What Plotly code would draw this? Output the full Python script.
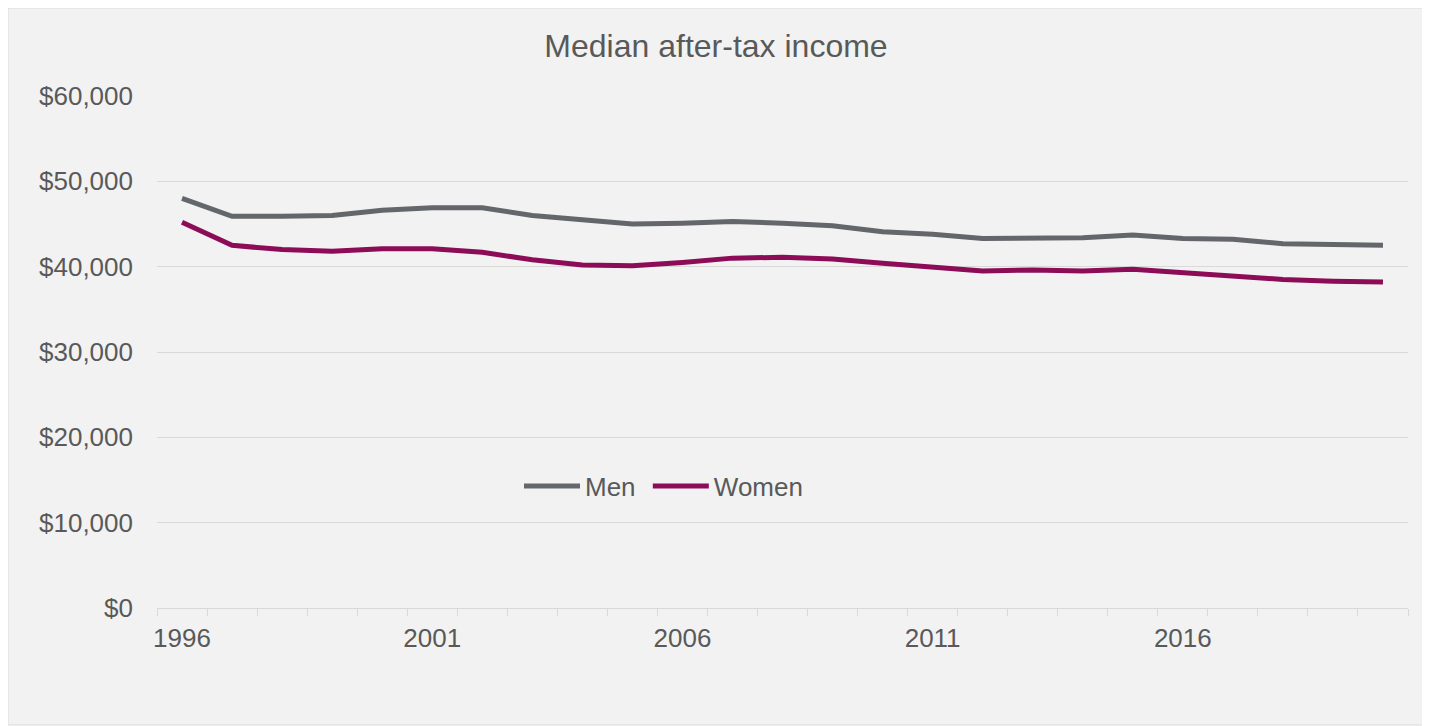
import plotly.graph_objects as go

years = [1996, 1997, 1998, 1999, 2000, 2001, 2002, 2003, 2004, 2005, 2006, 2007, 2008,
         2009, 2010, 2011, 2012, 2013, 2014, 2015, 2016, 2017, 2018, 2019, 2020]
men = [48000, 45900, 45900, 46000, 46600, 46900, 46900, 46000, 45500, 45000, 45100, 45300, 45100,
       44800, 44100, 43800, 43300, 43400, 43400, 43700, 43300, 43200, 42700, 42600, 42500]
women = [45200, 42500, 42000, 41800, 42100, 42100, 41700, 40800, 40200, 40100, 40500, 41000, 41100,
         40900, 40400, 40000, 39500, 39600, 39500, 39700, 39300, 39000, 38500, 38300, 38200]
label_years = [1996, 2001, 2006, 2011, 2016]
y_ticks = [0, 10000, 20000, 30000, 40000, 50000, 60000]

TEXT = "#595959"
GRID = "#d9d9d9"
FONT = "Liberation Sans, Arial, sans-serif"

fig = go.Figure()
fig.add_trace(go.Scatter(x=years, y=men, name="Men\u00a0", mode="lines",
                         line=dict(color="#63666a", width=5)))
fig.add_trace(go.Scatter(x=years, y=women, name="Women", mode="lines",
                         line=dict(color="#8c0c57", width=5)))

# page is offset by the 8px body margin; work in page pixels, convert to figure pixels
OFF = 8
W, H = 1430 - OFF, 726 - OFF
L, R, T, B = 157 - OFF, 1430 - 1408, 96 - OFF, 726 - 608
pw, ph = W - L - R, H - T - B

def px_x(x):  # page x -> paper fraction
    return (x - OFF - L) / pw

def px_y(y):  # page y -> paper fraction
    return (H - B - (y - OFF)) / ph

fig.add_shape(type="rect", xref="paper", yref="paper",
              x0=px_x(OFF), x1=px_x(1425), y0=px_y(725), y1=px_y(OFF),
              fillcolor="#f2f2f2", line=dict(color="#d9d9d9", width=1), layer="below")

fig.update_layout(
    width=W, height=H,
    margin=dict(l=L, r=R, t=T, b=B, pad=0),
    paper_bgcolor="white",
    plot_bgcolor="rgba(0,0,0,0)",
    font=dict(family=FONT, color=TEXT, size=26),
    title=dict(text="Median after-tax income", x=(716 - OFF) / W, xref="container", xanchor="center",
               y=1 - (46 - OFF) / H, yref="container", yanchor="middle",
               font=dict(size=32, color=TEXT, family=FONT)),
    showlegend=True,
    legend=dict(orientation="h", x=px_x(519), xanchor="left", y=px_y(486), yanchor="middle",
                bgcolor="rgba(0,0,0,0)", font=dict(size=26, color=TEXT), itemwidth=56,
                traceorder="normal"),
    xaxis=dict(range=[1995.5, 2020.5], tickmode="array", tickvals=label_years,
               ticktext=[str(y) for y in label_years], ticks="", showgrid=False,
               zeroline=False, showline=True, linecolor=GRID, linewidth=1,
               ticklabelstandoff=7,
               minor=dict(tick0=1995.5, dtick=1, ticks="outside", ticklen=7,
                          tickcolor=GRID, tickwidth=1, showgrid=False),
               tickfont=dict(size=26, color=TEXT)),
    yaxis=dict(range=[0, 60000], tickmode="array", tickvals=y_ticks,
               ticktext=["$" + format(v, ",") for v in y_ticks],
               showgrid=True, gridcolor=GRID, gridwidth=1, zeroline=False,
               showline=False, ticks="", ticklabelstandoff=23,
               tickfont=dict(size=26, color=TEXT)),
)

fig.write_html("out.html")
